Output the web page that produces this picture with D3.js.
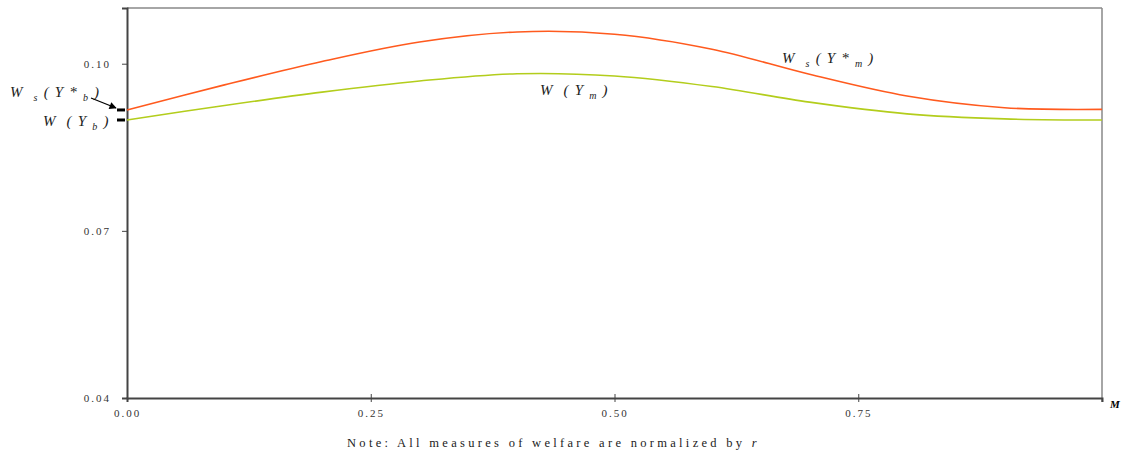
<!DOCTYPE html>
<html>
<head>
<meta charset="utf-8">
<script src="https://cdn.jsdelivr.net/npm/d3@7"></script>
<style>
body { margin: 0; background: #fff; }
text { font-family: "Liberation Serif", "DejaVu Serif", serif; }
.tick-label { font-size: 11px; letter-spacing: 2px; fill: #333; }
.lab { font-size: 15px; font-style: italic; fill: #222; letter-spacing: 1.2px; }
</style>
</head>
<body>
<div id="graphic"></div>
<script>
// sample points
var mValues = [0, 0.1, 0.2, 0.3, 0.4, 0.5, 0.6, 0.7, 0.8, 0.9, 1.0];
var wsStar = [0.0917, 0.0962, 0.1004, 0.1039, 0.1057, 0.1053, 0.1026, 0.0981, 0.0942, 0.0921, 0.0918];
var wPlain = [0.0899, 0.0925, 0.0949, 0.0969, 0.0982, 0.0978, 0.0959, 0.0931, 0.0910, 0.0901, 0.0899];
var xTicks = [0, 0.25, 0.5, 0.75];
var yTicks = [0.04, 0.07, 0.10];

var width = 1124, height = 457;
var margin = {top: 8, right: 22, bottom: 59, left: 127};
var chart_width = width - margin.left - margin.right;
var chart_height = height - margin.top - margin.bottom;

var svg = d3.select("#graphic").append("svg")
	.attr("width", width)
	.attr("height", height);

var g = svg.append("g")
	.attr("transform", "translate(" + margin.left + "," + margin.top + ")");

var x = d3.scaleLinear().domain([0, 1]).range([0, chart_width]);
var y = d3.scaleLinear().domain([0.04, 0.11]).range([chart_height, 0]);

// frame: light top / right
g.append("line").attr("x1", 0).attr("x2", chart_width).attr("y1", 0).attr("y2", 0)
	.attr("stroke", "#888").attr("stroke-width", 1.5);
g.append("line").attr("x1", chart_width).attr("x2", chart_width).attr("y1", 0).attr("y2", chart_height + 4)
	.attr("stroke", "#888").attr("stroke-width", 1.5);

// y axis
var yAxis = g.append("g").call(d3.axisLeft(y).tickValues(yTicks).tickSize(5).tickPadding(11)
	.tickFormat(d3.format(".2f")));
yAxis.select(".domain").attr("stroke", "#444").attr("stroke-width", 2);
yAxis.selectAll(".tick line").attr("stroke", "#444");
yAxis.selectAll("text").attr("class", "tick-label").attr("font-size", null).attr("font-family", null);

// x axis
var xAxis = g.append("g").attr("transform", "translate(0," + chart_height + ")")
	.call(d3.axisBottom(x).tickValues(xTicks).tickSize(4).tickPadding(7)
	.tickFormat(d3.format(".2f")));
xAxis.select(".domain").attr("stroke", "#444").attr("stroke-width", 2);
xAxis.selectAll(".tick line").attr("stroke", "#444").attr("y1", -4);
xAxis.selectAll("text").attr("class", "tick-label").attr("font-size", null).attr("font-family", null);

svg.append("text").attr("x", 1110).attr("y", 408)
	.style("font-size", "11px").style("font-weight", "bold").style("font-style", "italic")
	.text("M");

// lines
var line = d3.line().curve(d3.curveCatmullRom)
	.x(function(d, i) { return x(mValues[i]); })
	.y(function(d) { return y(d); });

g.append("path").datum(wPlain).attr("d", line)
	.attr("fill", "none").attr("stroke", "#b3cd1c").attr("stroke-width", 1.6);
g.append("path").datum(wsStar).attr("d", line)
	.attr("fill", "none").attr("stroke", "#ff5a1e").attr("stroke-width", 1.6);

// markers at left for the b-values
g.append("line").attr("x1", -10).attr("x2", -2).attr("y1", y(wsStar[0])).attr("y2", y(wsStar[0]))
	.attr("stroke", "#000").attr("stroke-width", 3);
g.append("line").attr("x1", -10).attr("x2", -2).attr("y1", y(wPlain[0])).attr("y2", y(wPlain[0]))
	.attr("stroke", "#000").attr("stroke-width", 3);

// labels with subscripts
var NB = "\u00a0";
function label(xp, yp, parts) {
	var t = svg.append("text").attr("class", "lab").attr("x", xp).attr("y", yp);
	parts.forEach(function(p) {
		var s = t.append("tspan").text(p.t.replace(/ /g, NB));
		if (p.sub) s.attr("dy", 4).style("font-size", "10px");
		else if (p.after) s.attr("dy", -4);
	});
}
label(782, 63, [{t: "W  "}, {t: "s", sub: true}, {t: " ( Y * ", after: true}, {t: "m", sub: true}, {t: " )", after: true}]);
label(540, 95, [{t: "W  ( Y "}, {t: "m", sub: true}, {t: " )", after: true}]);
label(10, 97, [{t: "W  "}, {t: "s", sub: true}, {t: " ( Y * ", after: true}, {t: "b", sub: true}, {t: " )", after: true}]);
label(43, 126, [{t: "W  ( Y "}, {t: "b", sub: true}, {t: " )", after: true}]);

// arrow
svg.append("defs").append("marker").attr("id", "arr").attr("viewBox", "0 0 10 10")
	.attr("refX", 9).attr("refY", 5).attr("markerWidth", 7).attr("markerHeight", 6)
	.attr("orient", "auto")
	.append("path").attr("d", "M0,0L10,5L0,10z").attr("fill", "#000");
svg.append("line").attr("x1", 91).attr("y1", 98).attr("x2", 116).attr("y2", 108)
	.attr("stroke", "#000").attr("stroke-width", 1.2).attr("marker-end", "url(#arr)");

// note
var note = svg.append("text").attr("x", 347).attr("y", 447)
	.style("font-size", "12.5px").style("letter-spacing", "3.3px").attr("fill", "#222");
note.append("tspan").text("Note: All measures of welfare are normalized by ");
note.append("tspan").style("font-style", "italic").text("r");
</script>
</body>
</html>
